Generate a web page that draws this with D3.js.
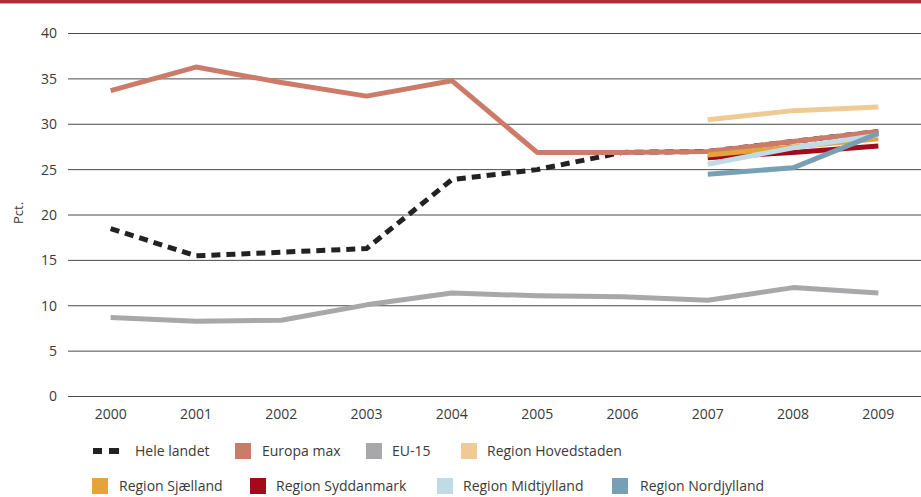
<!DOCTYPE html>
<html><head><meta charset="utf-8">
<script src="https://cdn.jsdelivr.net/npm/d3@7"></script>
<style>body{margin:0;background:#fff}svg{display:block}text{font-family:"Open Sans",sans-serif;fill:#3a3a3a}</style>
</head><body><svg id="c" width="921" height="497"></svg>
<script>
const years = ["2000","2001","2002","2003","2004","2005","2006","2007","2008","2009"];
const yTicks = [0,5,10,15,20,25,30,35,40];
const heleLandet = [18.5,15.5,15.9,16.3,23.9,25.0,26.9,27.0,28.1,29.2];
const europaMax = [33.7,36.3,34.6,33.1,34.8,26.9,26.9,27.0,28.1,29.2];
const eu15 = [8.7,8.3,8.4,10.1,11.4,11.1,11.0,10.6,12.0,11.4];
const hovedstaden = [null,null,null,null,null,null,null,30.5,31.5,31.9];
const sjaelland = [null,null,null,null,null,null,null,26.6,27.5,28.4];
const syddanmark = [null,null,null,null,null,null,null,26.3,26.9,27.6];
const midtjylland = [null,null,null,null,null,null,null,25.6,27.4,28.8];
const nordjylland = [null,null,null,null,null,null,null,24.5,25.2,29.0];
const seriesNames = ["Hele landet","Europa max","EU-15","Region Hovedstaden","Region Sjælland","Region Syddanmark","Region Midtjylland","Region Nordjylland"];
const seriesColors = ["#222222","#cd7b69","#a8a8ab","#f0ca94","#e5a33b","#a30b1a","#c0dae6","#78a0b4"];
const seriesValues = [heleLandet,europaMax,eu15,hovedstaden,sjaelland,syddanmark,midtjylland,nordjylland];

const svg = d3.select("#c");
svg.append("rect").attr("x",0).attr("y",0).attr("width",921).attr("height",3).attr("fill","#b22a3a");
svg.append("rect").attr("x",0).attr("y",3).attr("width",921).attr("height",1).attr("fill","#dba0a8");

const x = d3.scaleBand().domain(years).range([68,921]);
const y = d3.scaleLinear().domain([0,40]).range([396.5,33.5]);
const cx = d => x(d) + x.bandwidth()/2;

// grid
svg.append("g").selectAll("line").data(yTicks).join("line")
  .attr("x1",68).attr("x2",921).attr("y1",d=>y(d)).attr("y2",d=>y(d))
  .attr("stroke","#4a4a4a").attr("stroke-width",1);

// y axis labels
const ya = svg.append("g").attr("transform","translate(57,0)")
  .call(d3.axisLeft(y).tickValues(yTicks).tickSize(0).tickPadding(0));
ya.select(".domain").remove();
ya.selectAll("text").attr("font-size",14).attr("font-family","Open Sans").attr("fill","#3a3a3a");

// x axis labels
const xa = svg.append("g").attr("transform","translate(0,409)")
  .call(d3.axisBottom(x).tickSize(0).tickPadding(0));
xa.select(".domain").remove();
xa.selectAll("text").attr("font-size",14).attr("font-family","Open Sans").attr("fill","#3a3a3a");

svg.append("text").attr("transform","translate(23,213) rotate(-90)")
  .attr("text-anchor","middle").attr("font-size",13).text("Pct.");

// lines
const order = [0,2,1,3,5,4,6,7];
order.forEach(i => {
  const pts = years.map((yr,j)=>({yr, v: seriesValues[i][j]})).filter(p=>p.v!=null);
  const line = d3.line().x(p=>cx(p.yr)).y(p=>y(p.v)).curve(d3.curveLinear);
  const path = svg.append("path").attr("d", line(pts)).attr("fill","none")
    .attr("stroke", seriesColors[i]).attr("stroke-width",5).attr("stroke-linejoin","round");
  if (i===0) path.attr("stroke-dasharray","9,6");
});

// legend
const legendPos = [
  {sx:93, tx:135, cy:451},
  {sx:235, tx:262, cy:451},
  {sx:366, tx:392, cy:451},
  {sx:461, tx:487, cy:451},
  {sx:92, tx:119, cy:486},
  {sx:250, tx:276, cy:486},
  {sx:437, tx:463, cy:486},
  {sx:612, tx:640, cy:486}
];
const lg = svg.append("g");
seriesNames.forEach((name,i)=>{
  const p = legendPos[i];
  if (i===0) {
    lg.append("rect").attr("x",p.sx).attr("y",p.cy-3).attr("width",9).attr("height",6).attr("fill",seriesColors[0]);
    lg.append("rect").attr("x",p.sx+16).attr("y",p.cy-3).attr("width",10).attr("height",6).attr("fill",seriesColors[0]);
  } else {
    lg.append("rect").attr("x",p.sx).attr("y",p.cy-8).attr("width",16).attr("height",16).attr("fill",seriesColors[i]);
  }
  lg.append("text").attr("x",p.tx).attr("y",p.cy).attr("dy","0.35em").attr("font-size",14).text(name);
});
</script></body></html>
